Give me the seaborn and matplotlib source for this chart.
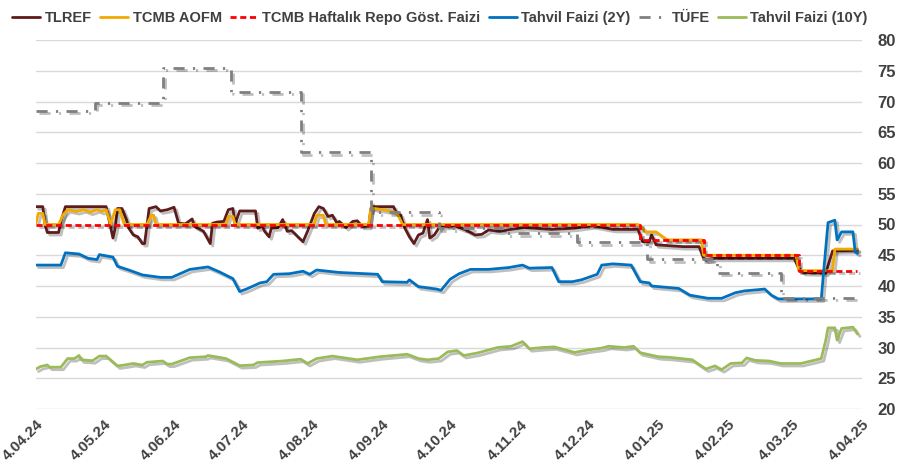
import pandas as pd
import matplotlib
matplotlib.use("Agg")
import matplotlib.pyplot as plt
import matplotlib.patheffects as pe
from matplotlib.lines import Line2D
import seaborn as sns

# ---- veriler (grafikten okunan yaklaşık değerler) ----
tlref_dates = ["2024-04-04", "2024-04-07", "2024-04-08", "2024-04-09", "2024-04-14", "2024-04-15",
               "2024-04-17", "2024-05-05", "2024-05-08", "2024-05-09", "2024-05-10", "2024-05-12",
               "2024-05-14", "2024-05-15", "2024-05-17", "2024-05-19", "2024-05-21", "2024-05-22",
               "2024-05-24", "2024-05-27", "2024-05-29", "2024-06-01", "2024-06-04", "2024-06-06",
               "2024-06-09", "2024-06-12", "2024-06-13", "2024-06-17", "2024-06-20", "2024-06-21",
               "2024-06-23", "2024-06-26", "2024-06-28", "2024-06-30", "2024-07-01", "2024-07-03",
               "2024-07-10", "2024-07-11", "2024-07-13", "2024-07-14", "2024-07-16", "2024-07-17",
               "2024-07-20", "2024-07-22", "2024-07-24", "2024-07-26", "2024-07-29", "2024-07-31",
               "2024-08-02", "2024-08-05", "2024-08-07", "2024-08-09", "2024-08-11", "2024-08-13",
               "2024-08-15", "2024-08-16", "2024-08-19", "2024-08-22", "2024-08-24", "2024-08-26",
               "2024-08-29", "2024-08-30", "2024-08-31", "2024-09-09", "2024-09-10", "2024-09-12",
               "2024-09-14", "2024-09-16", "2024-09-18", "2024-09-20", "2024-09-22", "2024-09-24",
               "2024-09-25", "2024-09-27", "2024-09-29", "2024-09-30", "2024-10-03", "2024-10-06",
               "2024-10-11", "2024-10-15", "2024-10-18", "2024-10-21", "2024-10-26", "2024-10-31",
               "2024-11-06", "2024-11-18", "2024-11-28", "2024-12-06", "2024-12-15", "2024-12-26",
               "2024-12-28", "2024-12-31", "2025-01-01", "2025-01-03", "2025-01-15", "2025-01-22",
               "2025-01-24", "2025-01-25", "2025-01-29", "2025-03-05", "2025-03-07", "2025-03-09",
               "2025-03-19", "2025-03-22", "2025-04-02"]
tlref_vals = [52.9, 52.9, 50.0, 48.7, 48.7, 50.5,
              52.9, 52.9, 47.8, 49.4, 52.6, 52.6,
              50.8, 49.4, 48.3, 48.0, 46.9, 46.9,
              52.6, 52.9, 52.2, 52.4, 52.8, 50.2,
              50.1, 50.9, 49.7, 48.9, 46.9, 50.2,
              50.4, 50.5, 52.4, 52.6, 50.1, 52.2,
              52.2, 49.4, 49.7, 48.9, 48.0, 49.4,
              49.5, 50.8, 48.9, 49.0, 47.9, 47.2,
              48.9, 51.8, 52.9, 52.6, 51.3, 51.5,
              50.2, 50.5, 49.5, 50.5, 50.6, 49.7,
              49.7, 52.6, 52.9, 52.9, 52.1, 51.6,
              49.4, 48.0, 46.9, 48.3, 48.6, 50.8,
              47.8, 48.3, 49.4, 49.7, 49.7, 49.8,
              49.1, 48.3, 48.4, 49.1, 48.9, 49.2,
              49.5, 49.2, 49.4, 49.8, 49.2, 49.2,
              47.2, 47.2, 48.3, 46.7, 46.4, 46.4,
              44.5, 44.2, 44.5, 44.5, 42.9, 42.2,
              42.1, 45.7, 45.8]

aofm_dates = ["2024-04-04", "2024-04-05", "2024-04-07", "2024-04-08", "2024-04-14", "2024-04-16",
              "2024-04-18", "2024-04-22", "2024-04-25", "2024-04-28", "2024-05-01", "2024-05-03",
              "2024-05-05", "2024-05-07", "2024-05-09", "2024-05-11", "2024-05-13", "2024-05-23",
              "2024-05-25", "2024-05-26", "2024-05-27", "2024-06-27", "2024-06-28", "2024-06-30",
              "2024-07-01", "2024-08-05", "2024-08-06", "2024-08-09", "2024-08-10", "2024-08-29",
              "2024-08-30", "2024-09-09", "2024-09-11", "2024-09-13", "2024-12-26", "2024-12-28",
              "2024-12-29", "2025-01-03", "2025-01-06", "2025-01-08", "2025-01-23", "2025-01-24",
              "2025-03-06", "2025-03-07", "2025-03-22", "2025-03-23", "2025-04-02"]
aofm_vals = [50.2, 51.8, 51.8, 50.0, 50.0, 51.6,
             52.4, 52.1, 52.4, 52.0, 52.4, 52.1,
             52.4, 50.0, 52.4, 52.4, 50.0, 50.0,
             51.5, 51.5, 50.0, 50.0, 51.3, 51.3,
             50.0, 50.0, 51.5, 51.5, 50.0, 50.0,
             52.7, 52.1, 51.5, 50.0, 50.0, 49.5,
             48.8, 48.8, 48.0, 47.5, 47.5, 45.0,
             45.0, 42.5, 42.5, 46.0, 46.0]

repo_dates = ["2024-04-04", "2024-12-27", "2025-01-24", "2025-03-07", "2025-04-02"]
repo_vals = [50.0, 47.5, 45.0, 42.5, 42.5]

bond2_dates = ["2024-04-04", "2024-04-15", "2024-04-17", "2024-04-23", "2024-04-27", "2024-05-01",
               "2024-05-02", "2024-05-08", "2024-05-10", "2024-05-15", "2024-05-21", "2024-05-29",
               "2024-06-03", "2024-06-11", "2024-06-19", "2024-06-24", "2024-06-30", "2024-07-03",
               "2024-07-06", "2024-07-12", "2024-07-15", "2024-07-18", "2024-07-25", "2024-07-31",
               "2024-08-03", "2024-08-06", "2024-08-16", "2024-09-02", "2024-09-04", "2024-09-15",
               "2024-09-16", "2024-09-20", "2024-09-28", "2024-09-30", "2024-10-04", "2024-10-08",
               "2024-10-13", "2024-10-21", "2024-10-30", "2024-11-05", "2024-11-08", "2024-11-18",
               "2024-11-21", "2024-11-27", "2024-12-01", "2024-12-08", "2024-12-10", "2024-12-15",
               "2024-12-23", "2024-12-27", "2024-12-31", "2025-01-01", "2025-01-13", "2025-01-18",
               "2025-01-26", "2025-02-01", "2025-02-07", "2025-02-11", "2025-02-20", "2025-02-23",
               "2025-02-26", "2025-03-17", "2025-03-18", "2025-03-20", "2025-03-23", "2025-03-24",
               "2025-03-26", "2025-03-31", "2025-04-01", "2025-04-02"]
bond2_vals = [43.4, 43.4, 45.4, 45.2, 44.5, 44.3,
              45.1, 44.7, 43.2, 42.6, 41.8, 41.4,
              41.4, 42.7, 43.1, 42.3, 41.2, 39.1,
              39.5, 40.5, 40.7, 41.9, 42.0, 42.4,
              41.9, 42.6, 42.2, 41.9, 40.7, 40.6,
              41.0, 39.9, 39.5, 39.3, 41.1, 42.0,
              42.7, 42.7, 43.0, 43.4, 42.9, 43.0,
              40.7, 40.7, 41.0, 41.9, 43.4, 43.6,
              43.4, 40.7, 40.5, 40.0, 39.6, 38.5,
              38.0, 38.0, 38.9, 39.2, 39.5, 38.5,
              37.9, 37.9, 42.1, 50.3, 50.7, 47.5,
              48.8, 48.8, 45.5, 45.3]

tufe_dates = ["2024-04-04", "2024-04-30", "2024-05-30", "2024-06-29", "2024-07-30", "2024-08-30",
              "2024-09-29", "2024-10-28", "2024-11-29", "2024-12-30", "2025-01-30", "2025-02-27",
              "2025-04-02"]
tufe_vals = [68.5, 69.8, 75.45, 71.6, 61.78, 51.97, 49.38, 48.58, 47.09, 44.38, 42.12, 38.1, 38.1]

bond10_dates = ["2024-04-04", "2024-04-06", "2024-04-09", "2024-04-10", "2024-04-15", "2024-04-18",
                "2024-04-21", "2024-04-23", "2024-04-24", "2024-04-29", "2024-05-02", "2024-05-05",
                "2024-05-10", "2024-05-13", "2024-05-17", "2024-05-21", "2024-05-23", "2024-05-30",
                "2024-06-01", "2024-06-03", "2024-06-11", "2024-06-18", "2024-06-19", "2024-06-27",
                "2024-07-03", "2024-07-09", "2024-07-11", "2024-07-22", "2024-07-30", "2024-08-02",
                "2024-08-06", "2024-08-13", "2024-08-24", "2024-09-03", "2024-09-15", "2024-09-20",
                "2024-09-24", "2024-09-29", "2024-10-03", "2024-10-07", "2024-10-10", "2024-10-16",
                "2024-10-25", "2024-10-31", "2024-11-05", "2024-11-08", "2024-11-14", "2024-11-19",
                "2024-11-28", "2024-12-04", "2024-12-10", "2024-12-13", "2024-12-20", "2024-12-24",
                "2024-12-27", "2025-01-04", "2025-01-09", "2025-01-19", "2025-01-25", "2025-01-29",
                "2025-02-01", "2025-02-05", "2025-02-10", "2025-02-12", "2025-02-16", "2025-02-22",
                "2025-02-27", "2025-03-08", "2025-03-17", "2025-03-19", "2025-03-20", "2025-03-23",
                "2025-03-24", "2025-03-26", "2025-03-31", "2025-04-02"]
bond10_vals = [26.5, 26.9, 27.15, 26.8, 26.8, 28.2,
               28.2, 28.7, 28.0, 27.85, 28.6, 28.6,
               27.0, 27.15, 27.4, 27.15, 27.6, 27.8,
               27.3, 27.3, 28.35, 28.5, 28.7, 28.2,
               27.05, 27.15, 27.55, 27.8, 28.1, 27.4,
               28.2, 28.6, 28.0, 28.5, 28.9, 28.2,
               28.0, 28.2, 29.3, 29.5, 28.7, 29.1,
               30.0, 30.2, 30.95, 29.8, 30.0, 30.1,
               29.2, 29.6, 29.9, 30.2, 30.0, 30.2,
               29.15, 28.5, 28.4, 28.0, 26.5, 27.0,
               26.4, 27.4, 27.5, 28.3, 27.9, 27.8,
               27.4, 27.4, 28.2, 31.2, 33.2, 33.2,
               31.2, 33.1, 33.3, 32.2]

tick_dates = pd.date_range("2024-04-04", periods=13, freq=pd.DateOffset(months=1))
tick_labels = [f"{d.day}.{d.month:02d}.{d.strftime('%y')}" for d in tick_dates]

# ---- stil ----
sns.set_theme(style="white")
plt.rcParams['font.family'] = ['Liberation Sans', 'DejaVu Sans']
text_color = "#404040"

fig = plt.figure(figsize=(9.02, 4.71), dpi=100)
ax = fig.add_axes([36 / 902, 1 - 409 / 471, (862 - 36) / 902, (409 - 40) / 471])

shadow = [pe.SimpleLineShadow(offset=(1.8, -1.8), shadow_color="black", alpha=0.25), pe.Normal()]

series = [
    ("TLREF", tlref_dates, tlref_vals, dict(color="#5E1B1B", lw=2.0), None),
    ("TCMB AOFM", aofm_dates, aofm_vals, dict(color="#F2A900", lw=2.0), None),
    ("TCMB Haftalık Repo Göst. Faizi", repo_dates, repo_vals,
     dict(color="#FF0000", lw=2.0, linestyle=(0, (2.2, 1.3))), "steps-post"),
    ("Tahvil Faizi (2Y)", bond2_dates, bond2_vals, dict(color="#0070C0", lw=2.0), None),
    ("TÜFE", tufe_dates, tufe_vals,
     dict(color="#808080", lw=2.0, linestyle=(0, (4, 3, 0.8, 3))), "steps-post"),
    ("Tahvil Faizi (10Y)", bond10_dates, bond10_vals, dict(color="#9BBB59", lw=2.0), None),
]

handles = []
for name, dates, vals, style, ds in series:
    df = pd.DataFrame({"tarih": pd.to_datetime(dates), "deger": vals})
    extra = {"drawstyle": ds} if ds else {}
    sns.lineplot(data=df, x="tarih", y="deger", ax=ax, estimator=None, sort=True,
                 path_effects=shadow, **style, **extra)
    handles.append(Line2D([], [], label=name, **style))

if ax.get_legend():
    ax.get_legend().remove()

ax.set_ylim(20, 80)
ax.set_xlim(pd.Timestamp("2024-04-04"), pd.Timestamp("2025-04-04"))
ax.set_yticks(range(20, 85, 5))
ax.yaxis.tick_right()
ax.tick_params(axis="y", length=0, pad=11, labelsize=12, labelcolor=text_color)
for lab in ax.get_yticklabels():
    lab.set_fontweight("bold")

ax.set_xticks(tick_dates)
ax.set_xticklabels(tick_labels, rotation=45, ha="right", va="top", rotation_mode="anchor",
                   fontsize=11, fontweight="bold", color=text_color)
ax.tick_params(axis="x", length=0, pad=6)

ax.set_xlabel("")
ax.set_ylabel("")
ax.yaxis.grid(True, color="#D9D9D9", lw=1)
ax.xaxis.grid(False)
for sp in ax.spines.values():
    sp.set_visible(False)

fig.legend(handles=handles, loc="upper center", bbox_to_anchor=(0.488, 1.005), ncol=6,
           frameon=False, handlelength=1.9, handletextpad=0.3, columnspacing=0.6,
           prop={"size": 10.5, "weight": "bold"}, labelcolor=text_color)

fig.savefig("out.png", dpi=100)
